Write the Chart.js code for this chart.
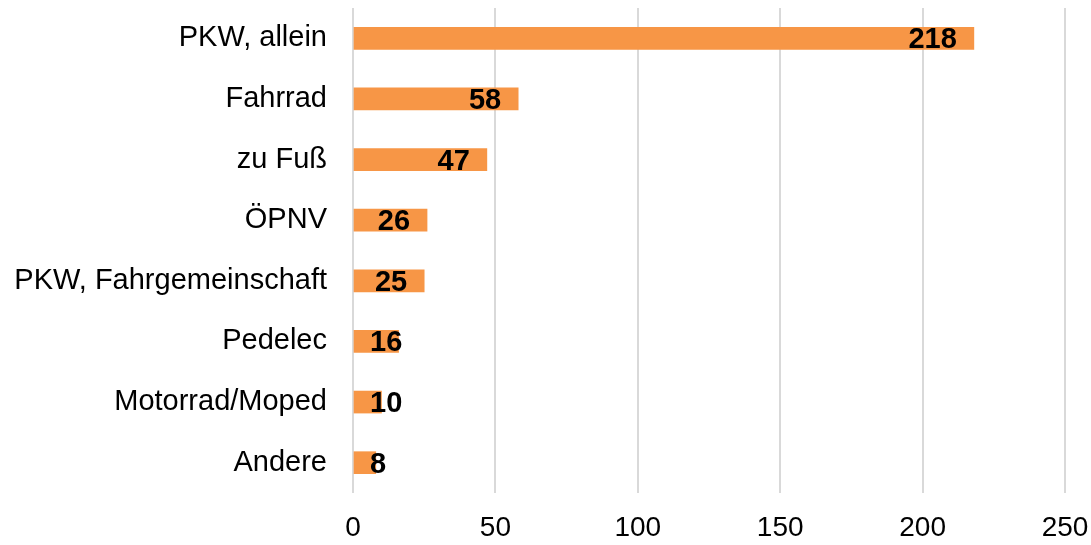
<!DOCTYPE html>
<html>
<head>
<meta charset="utf-8">
<script src="https://cdn.jsdelivr.net/npm/chart.js@4/dist/chart.umd.min.js"></script>
<style>
  html, body { margin: 0; padding: 0; background: #fff; }
  #wrap { width: 1091px; height: 545px; }
</style>
</head>
<body>
<div id="wrap"><canvas id="myChart" width="1091" height="545"></canvas></div>
<script>
const categories = ["PKW, allein", "Fahrrad", "zu Fuß", "ÖPNV", "PKW, Fahrgemeinschaft", "Pedelec", "Motorrad/Moped", "Andere"];
const values = [218, 58, 47, 26, 25, 16, 10, 8];
const xTicks = [0, 50, 100, 150, 200, 250];

const FONT = "'Liberation Sans', Arial, sans-serif";

// labels at the inner end of each bar, pushed right when the bar is too short
const barLabels = {
  id: "barLabels",
  afterDatasetsDraw(chart) {
    const ctx = chart.ctx;
    const meta = chart.getDatasetMeta(0);
    ctx.save();
    ctx.font = "bold 29px " + FONT;
    ctx.fillStyle = "#000";
    ctx.textBaseline = "middle";
    ctx.textAlign = "left";
    meta.data.forEach((bar, i) => {
      const txt = String(values[i]);
      const w = ctx.measureText(txt).width;
      let left = bar.x - 17 - w;
      if (left < bar.base + 16) left = bar.base + 16;
      ctx.fillText(txt, left, bar.y + 2);
    });
    ctx.restore();
  }
};

new Chart(document.getElementById("myChart").getContext("2d"), {
  type: "bar",
  data: {
    labels: categories,
    datasets: [{
      data: values,
      backgroundColor: "#F79646",
      borderWidth: 0,
      barThickness: 22
    }]
  },
  options: {
    indexAxis: "y",
    responsive: false,
    animation: false,
    layout: { padding: { top: 8, right: 26, left: 0, bottom: 0 } },
    plugins: { legend: { display: false }, tooltip: { enabled: false } },
    scales: {
      x: {
        min: 0,
        max: 250,
        afterBuildTicks: (scale) => { scale.ticks = xTicks.map(v => ({ value: v })); },
        grid: { color: "#d9d9d9", lineWidth: 2, drawTicks: false },
        border: { display: false },
        ticks: { color: "#000", font: { family: FONT, size: 28 }, padding: 18, maxRotation: 0 },
        afterFit: (scale) => {
          scale.height = 52;
          scale.paddingLeft = 0;
          scale.paddingRight = 0;
        }
      },
      y: {
        grid: { display: false, drawTicks: false },
        border: { display: false },
        ticks: { color: "#000", font: { family: FONT, size: 29 }, padding: 26 },
        afterFit: (scale) => {
          scale.width = 353;
          scale.paddingTop = 0;
          scale.paddingBottom = 0;
        }
      }
    }
  },
  plugins: [barLabels]
});
</script>
</body>
</html>
